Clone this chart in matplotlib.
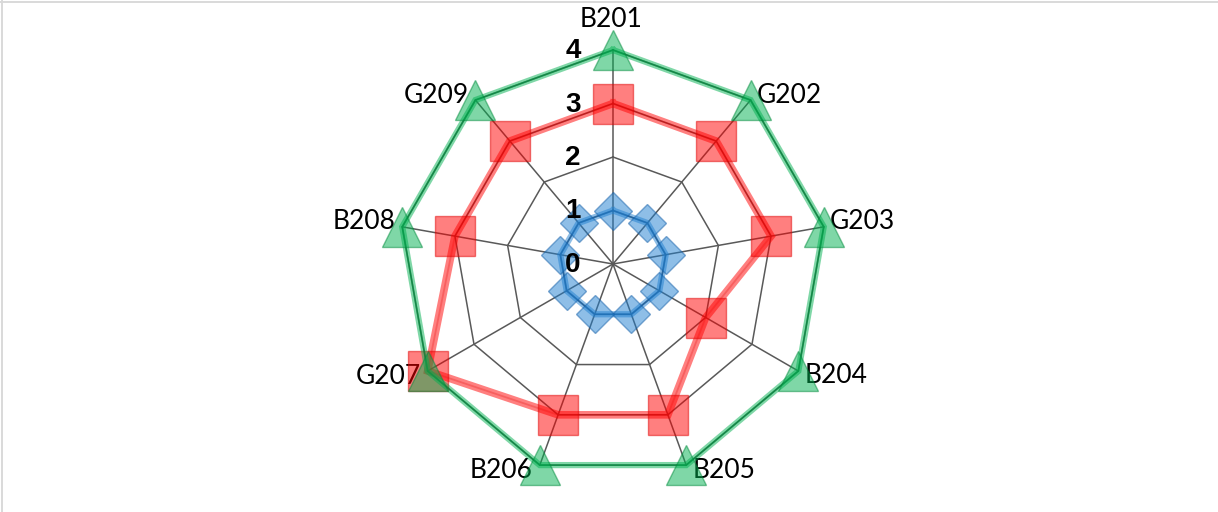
import numpy as np
import matplotlib
matplotlib.use("Agg")
import matplotlib.pyplot as plt
from matplotlib.lines import Line2D

categories = ["B201", "G202", "G203", "B204", "B205", "B206", "G207", "B208", "G209"]
series_blue = [1, 1, 1, 1, 1, 1, 1, 1, 1]
series_red = [3, 3, 3, 2, 3, 3, 4, 3, 3]
series_green = [4, 4, 4, 4, 4, 4, 4, 4, 4]
r_ticks = [0, 1, 2, 3, 4]

plt.rcParams['font.family'] = ['Lato', 'DejaVu Sans']

W, H = 1218, 512
fig = plt.figure(figsize=(W / 100, H / 100), dpi=100)
cx, cy, R = 613, 264, 214
ax = fig.add_axes([(cx - R) / W, (H - cy - R) / H, 2 * R / W, 2 * R / H], projection='polar')
ax.set_theta_zero_location('N')
ax.set_theta_direction(-1)
ax.set_ylim(0, max(r_ticks))
ax.grid(False)
ax.spines['polar'].set_visible(False)
ax.set_xticks([])
ax.set_yticks([])
ax.patch.set_alpha(0)

n = len(categories)
theta = np.arange(n) * 2 * np.pi / n
theta_c = np.append(theta, theta[0])

grid_col = '#595959'
for r in r_ticks[1:]:
    ax.plot(theta_c, [r] * (n + 1), color=grid_col, lw=1.1, zorder=1, clip_on=False)
for t in theta:
    ax.plot([t, t], [0, max(r_ticks)], color=grid_col, lw=1.1, zorder=1, clip_on=False)


def draw_series(vals, light, dark, marker, ms, z, core_alpha, lw):
    v = np.append(vals, vals[0])
    ax.plot(theta_c, v, color=light, alpha=0.5, lw=lw, zorder=z, clip_on=False,
            solid_joinstyle='miter')
    ax.plot(theta_c, v, color=dark, alpha=core_alpha, lw=1.3, zorder=z + 0.1, clip_on=False)
    ax.plot(theta, vals, linestyle='none', marker=marker, ms=ms,
            markerfacecolor=light, markeredgecolor=dark, alpha=0.5, mew=1.0,
            zorder=z + 0.2, clip_on=False)


draw_series(series_blue, '#1f7fd0', '#1560a8', 'D', 19.8, 3, 0.5, 4.5)
draw_series(series_red, '#ff0000', '#e00000', 's', 28.8, 4, 0.25, 5.5)
draw_series(series_green, '#00b050', '#008a3c', '^', 28.8, 5, 0.55, 4.5)

rmax = max(r_ticks)
for t, lab in zip(theta, categories):
    s, c = np.sin(t), np.cos(t)
    if abs(s) < 0.01:
        ax.annotate(lab, xy=(t, rmax), xytext=(-2, 18), textcoords='offset pixels',
                    ha='center', va='bottom', fontsize=19, color='black',
                    annotation_clip=False)
    else:
        ha = 'left' if s > 0 else 'right'
        dx = 6 if s > 0 else -7
        dy = 5 if c > 0 else -5
        ax.annotate(lab, xy=(t, rmax), xytext=(dx, dy), textcoords='offset pixels',
                    ha=ha, va='center', fontsize=19, color='black',
                    annotation_clip=False)

for r in r_ticks:
    ax.annotate(str(r), xy=(0, r), xytext=(-40, -1), textcoords='offset pixels',
                ha='center', va='center', fontsize=20, fontweight='bold',
                family=['Liberation Sans', 'DejaVu Sans'],
                color='black', annotation_clip=False, zorder=10)

fig.add_artist(Line2D([0, 1], [1 - 1.5 / H, 1 - 1.5 / H], color='#d9d9d9', lw=1.4,
                      transform=fig.transFigure))
fig.add_artist(Line2D([1.5 / W, 1.5 / W], [0, 1], color='#d9d9d9', lw=1.4,
                      transform=fig.transFigure))

fig.savefig('out.png', dpi=100)
